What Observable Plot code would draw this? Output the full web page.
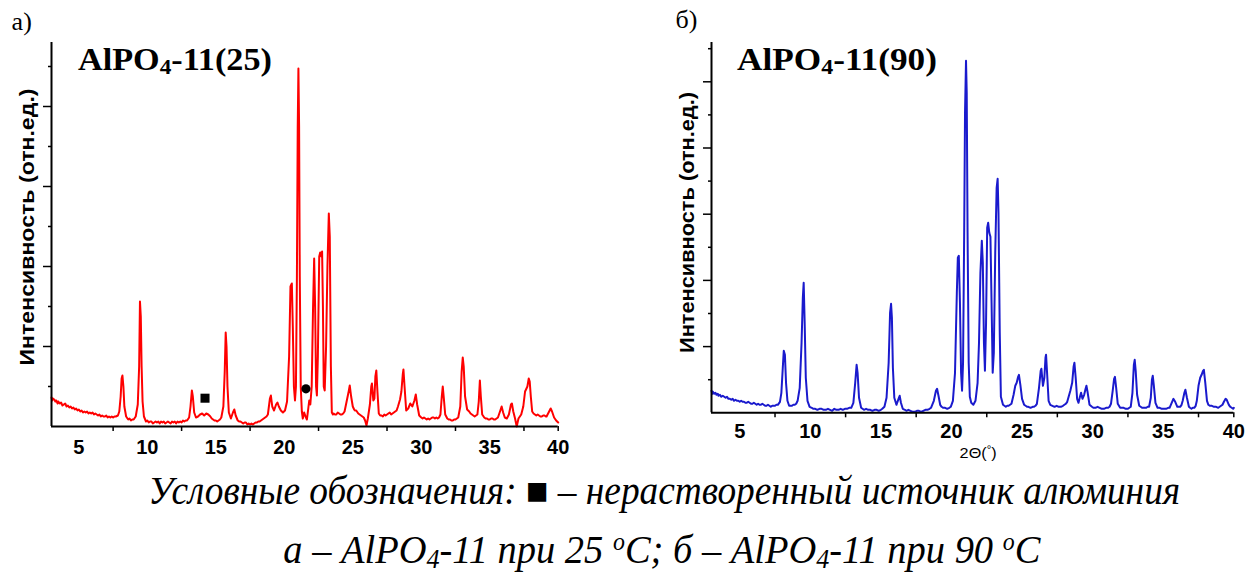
<!DOCTYPE html>
<html>
<head>
<meta charset="utf-8">
<script src="https://cdn.jsdelivr.net/npm/d3@7"></script>
<script src="https://cdn.jsdelivr.net/npm/@observablehq/plot@0.6"></script>
<style>
  html, body { margin: 0; padding: 0; background: #fff; }
  #root { position: relative; width: 1256px; height: 575px; overflow: hidden; background: #fff; }
  .panel { position: absolute; top: 0; }
  .lbl { position: absolute; white-space: nowrap; line-height: 1; color: #000; transform-origin: 50% 50%; }
  sub.s4 { font-size: 0.68em; vertical-align: -0.18em; line-height: 0; }
  sup.so { font-size: 0.62em; vertical-align: 0.55em; line-height: 0; }
</style>
</head>
<body>
<div id="root"></div>
<script>
// ---------- data ----------
const xTickLabels = [5, 10, 15, 20, 25, 30, 35, 40];
const xMinorTicks = [7.5, 12.5, 17.5, 22.5, 27.5, 32.5, 37.5, 40];
const yMajor25 = [80, 160, 240, 320];
const yMinor25 = [40, 120, 200, 280, 360];
const yMajor90 = [66.2, 132.4, 198.6, 264.8, 331];
const yMinor90 = [33.1, 99.3, 165.5, 231.7, 297.9, 364.1];

// AlPO4-11(25): [2θ, intensity (rel. units)]
const pattern25 = [
[3.0,29],[3.05,26],[3.1,28],[3.2,27],[3.28,25],[3.35,26],[3.45,23],[3.5,25],[3.6,23],[3.7,24],[3.8,21],[3.9,22],[4.0,23],[4.1,20],[4.2,21],[4.3,19],[4.4,20],[4.5,18],[4.6,19],[4.7,17],[4.8,18],[4.9,16],[5.0,17],[5.1,15],[5.2,16],[5.3,14],[5.4,15],[5.5,14],[5.6,15],[5.7,13],[5.8,14],[5.9,13],[6.0,14],[6.1,12],[6.2,13],[6.3,12],[6.4,11],[6.5,12],[6.6,10],[6.7,11],[6.8,10],[6.9,10],[7.0,11],[7.1,9],[7.2,10],[7.3,9],[7.4,10],[7.5,9],[7.6,10],[7.7,10],[7.85,11],[7.95,15],[8.05,30],[8.12,48],[8.18,51],[8.25,40],[8.32,20],[8.45,10],[8.6,7],[8.7,8],[8.8,6],[8.9,7],[9.0,7],[9.15,10],[9.3,22],[9.4,60],[9.46,125],[9.52,110],[9.58,60],[9.65,25],[9.75,10],[9.9,5],[10.0,6],[10.1,4],[10.2,5],[10.3,5],[10.4,3],[10.5,4],[10.6,5],[10.7,4],[10.8,5],[10.9,3],[11.0,5],[11.1,4],[11.2,5],[11.3,3],[11.4,4],[11.5,5],[11.6,4],[11.7,3],[11.8,5],[11.9,4],[12.0,5],[12.1,3],[12.2,5],[12.3,4],[12.4,5],[12.5,4],[12.6,6],[12.7,5],[12.8,6],[12.9,6],[13.05,9],[13.15,20],[13.25,36],[13.32,30],[13.42,14],[13.55,9],[13.7,10],[13.85,12],[14.0,13],[14.15,11],[14.3,13],[14.45,12],[14.6,10],[14.7,8],[14.8,7],[14.9,6],[15.0,6],[15.1,5],[15.2,6],[15.3,7],[15.4,9],[15.55,20],[15.65,55],[15.72,94],[15.78,80],[15.85,40],[15.95,14],[16.1,8],[16.25,14],[16.35,17],[16.45,11],[16.6,6],[16.7,5],[16.8,5],[16.9,4],[17.0,3],[17.1,4],[17.2,4],[17.3,2],[17.4,3],[17.5,2],[17.6,3],[17.7,2],[17.8,3],[17.9,4],[18.0,4],[18.1,5],[18.2,5],[18.3,6],[18.4,7],[18.5,8],[18.6,9],[18.7,10],[18.8,12],[18.95,28],[19.02,31],[19.12,20],[19.25,16],[19.4,22],[19.5,24],[19.6,20],[19.75,16],[19.9,14],[20.05,16],[20.2,25],[20.35,70],[20.45,140],[20.55,143],[20.62,100],[20.7,40],[20.78,26],[20.85,40],[20.92,150],[20.98,300],[21.03,358],[21.08,300],[21.13,150],[21.2,40],[21.28,15],[21.35,8],[21.45,14],[21.55,10],[21.65,7],[21.75,18],[21.82,26],[21.9,22],[22.0,40],[22.1,120],[22.18,168],[22.25,120],[22.32,40],[22.38,31],[22.45,70],[22.55,170],[22.62,174],[22.7,170],[22.76,175],[22.82,120],[22.88,40],[22.95,36],[23.05,80],[23.15,160],[23.25,213],[23.32,190],[23.4,60],[23.47,14],[23.55,12],[23.6,13],[23.7,12],[23.8,12],[23.9,14],[24.0,13],[24.1,12],[24.2,12],[24.3,13],[24.4,15],[24.55,25],[24.7,35],[24.78,41],[24.88,30],[25.0,20],[25.1,17],[25.15,16],[25.25,16],[25.3,15],[25.4,13],[25.5,12],[25.6,11],[25.7,10],[25.8,9],[25.9,6],[26.0,1],[26.1,8],[26.25,22],[26.35,40],[26.4,43],[26.5,26],[26.58,28],[26.65,50],[26.72,56],[26.8,35],[26.9,13],[27.0,11],[27.1,11],[27.2,10],[27.3,12],[27.4,11],[27.5,12],[27.6,13],[27.7,14],[27.8,12],[27.9,13],[28.0,14],[28.1,15],[28.2,16],[28.3,20],[28.45,27],[28.55,35],[28.65,52],[28.7,57],[28.78,40],[28.9,16],[29.05,18],[29.2,23],[29.35,20],[29.5,26],[29.6,32],[29.7,22],[29.85,11],[30.0,9],[30.1,8],[30.2,9],[30.3,8],[30.4,7],[30.5,8],[30.6,7],[30.7,8],[30.8,9],[30.9,9],[31.0,8],[31.1,9],[31.2,8],[31.3,9],[31.4,12],[31.5,30],[31.57,40],[31.65,28],[31.75,12],[31.9,8],[32.0,7],[32.1,7],[32.2,6],[32.3,6],[32.4,7],[32.5,7],[32.6,8],[32.7,9],[32.85,20],[32.95,55],[33.03,69],[33.1,60],[33.2,30],[33.35,17],[33.5,15],[33.6,13],[33.7,12],[33.8,11],[33.9,10],[34.0,11],[34.1,12],[34.2,25],[34.28,46],[34.35,30],[34.45,12],[34.6,9],[34.7,8],[34.8,8],[34.9,7],[35.0,7],[35.1,8],[35.2,8],[35.3,7],[35.4,7],[35.5,8],[35.6,9],[35.75,15],[35.87,20],[35.98,14],[36.1,9],[36.25,8],[36.4,12],[36.55,22],[36.62,23],[36.72,15],[36.85,8],[36.97,0],[37.1,8],[37.2,10],[37.3,12],[37.45,20],[37.58,35],[37.65,37],[37.75,40],[37.85,48],[37.92,45],[38.0,30],[38.1,15],[38.2,13],[38.3,12],[38.4,11],[38.5,12],[38.6,11],[38.7,10],[38.8,10],[38.9,11],[39.0,11],[39.1,10],[39.15,10],[39.3,14],[39.45,18],[39.55,15],[39.7,9],[39.85,6],[40.0,4]
];

// AlPO4-11(90)
const pattern90 = [
[3.0,22],[3.05,19],[3.1,21],[3.2,19],[3.28,20],[3.35,18],[3.45,19],[3.5,17],[3.6,18],[3.7,16],[3.8,17],[3.9,16],[4.0,15],[4.1,16],[4.2,14],[4.3,14],[4.4,13],[4.5,14],[4.6,12],[4.7,13],[4.8,12],[4.9,12],[5.0,11],[5.1,12],[5.2,11],[5.3,11],[5.4,10],[5.5,10],[5.6,11],[5.7,10],[5.8,9],[5.9,9],[6.0,10],[6.1,9],[6.2,8],[6.3,9],[6.4,8],[6.5,8],[6.6,9],[6.7,8],[6.8,7],[6.9,7],[7.0,8],[7.1,7],[7.2,6],[7.3,7],[7.4,7],[7.5,7],[7.6,8],[7.7,8],[7.85,11],[7.95,20],[8.05,45],[8.12,62],[8.2,58],[8.28,30],[8.38,12],[8.5,7],[8.6,7],[8.7,7],[8.8,8],[8.9,8],[9.0,9],[9.1,12],[9.25,25],[9.38,70],[9.47,115],[9.53,130],[9.6,90],[9.68,35],[9.8,12],[9.95,6],[10.1,5],[10.2,4],[10.35,4],[10.5,3],[10.65,4],[10.8,4],[10.95,3],[11.1,3],[11.25,4],[11.4,3],[11.55,2],[11.7,4],[11.85,3],[12.0,3],[12.15,4],[12.3,3],[12.45,4],[12.6,4],[12.75,5],[12.9,5],[13.05,10],[13.18,30],[13.28,48],[13.35,40],[13.45,15],[13.6,5],[13.7,4],[13.8,3],[13.95,4],[14.1,3],[14.25,3],[14.4,2],[14.55,3],[14.7,3],[14.85,2],[15.0,3],[15.1,4],[15.25,6],[15.4,15],[15.55,50],[15.65,100],[15.72,109],[15.78,95],[15.85,45],[15.95,15],[16.1,8],[16.25,14],[16.33,17],[16.42,10],[16.55,4],[16.7,3],[16.8,2],[16.95,3],[17.1,2],[17.25,1],[17.4,1],[17.55,2],[17.7,2],[17.85,1],[18.0,2],[18.15,3],[18.3,3],[18.45,4],[18.55,5],[18.75,12],[18.9,22],[18.98,24],[19.08,17],[19.2,8],[19.3,6],[19.4,5],[19.55,5],[19.7,4],[19.85,5],[19.95,6],[20.1,12],[20.25,40],[20.38,120],[20.45,155],[20.52,157],[20.6,110],[20.68,40],[20.75,22],[20.82,50],[20.9,180],[20.96,300],[21.03,352],[21.08,320],[21.14,180],[21.22,50],[21.3,16],[21.4,10],[21.55,8],[21.7,12],[21.85,30],[21.95,70],[22.05,140],[22.15,172],[22.22,150],[22.3,70],[22.37,42],[22.45,90],[22.53,185],[22.6,190],[22.68,180],[22.76,176],[22.84,110],[22.92,40],[23.0,60],[23.1,160],[23.2,225],[23.27,234],[23.33,200],[23.42,80],[23.5,16],[23.65,8],[23.75,7],[23.85,6],[23.95,7],[24.05,7],[24.15,8],[24.25,9],[24.4,18],[24.52,27],[24.62,30],[24.72,36],[24.78,38],[24.88,28],[25.0,14],[25.15,8],[25.25,7],[25.35,6],[25.45,6],[25.6,5],[25.75,6],[25.85,6],[25.95,7],[26.05,9],[26.2,25],[26.32,42],[26.37,44],[26.48,27],[26.58,35],[26.66,55],[26.7,58],[26.78,38],[26.88,12],[27.0,8],[27.15,7],[27.3,6],[27.45,7],[27.6,6],[27.75,6],[27.9,7],[28.0,8],[28.1,9],[28.2,11],[28.3,16],[28.42,22],[28.55,30],[28.65,46],[28.71,50],[28.8,35],[28.9,14],[29.0,10],[29.1,16],[29.18,20],[29.28,14],[29.4,18],[29.5,24],[29.56,27],[29.65,20],[29.78,8],[29.95,6],[30.05,5],[30.2,5],[30.35,6],[30.5,5],[30.65,4],[30.8,4],[30.95,5],[31.1,5],[31.2,6],[31.3,9],[31.42,22],[31.52,34],[31.58,36],[31.66,26],[31.78,9],[31.95,5],[32.05,5],[32.2,5],[32.35,4],[32.5,4],[32.6,5],[32.7,6],[32.82,20],[32.92,48],[32.98,53],[33.05,42],[33.15,18],[33.3,7],[33.4,6],[33.5,5],[33.65,5],[33.8,5],[33.9,6],[34.0,6],[34.12,15],[34.2,33],[34.26,37],[34.33,28],[34.45,10],[34.6,5],[34.75,5],[34.9,4],[35.05,4],[35.2,4],[35.35,5],[35.45,5],[35.6,10],[35.72,14],[35.85,11],[36.0,6],[36.1,6],[36.2,6],[36.3,8],[36.38,12],[36.5,20],[36.57,23],[36.68,15],[36.82,6],[36.9,5],[37.0,4],[37.1,5],[37.2,5],[37.3,7],[37.38,12],[37.5,27],[37.62,35],[37.72,38],[37.82,42],[37.88,43],[37.98,30],[38.1,12],[38.2,8],[38.3,7],[38.45,7],[38.6,6],[38.75,6],[38.9,5],[39.0,6],[39.1,7],[39.2,8],[39.3,11],[39.42,14],[39.5,13],[39.65,8],[39.75,6],[39.85,5],[39.95,4],[40.0,5]
];

const squareMarker25 = [[14.21, 28.3]];   // нерастворенный источник алюминия
const circleMarker25 = [[21.58, 37.7]];

// ---------- plots ----------
const root = document.getElementById("root");

function makePanel(o) {
  const marks = [
    Plot.line(o.data, {x: d => d[0], y: d => d[1], stroke: o.color, strokeWidth: 2}),
    ...(o.extra || []),
    Plot.ruleX([3], {stroke: "black", strokeWidth: 2}),
    Plot.ruleY([0], {stroke: "black", strokeWidth: 2}),
    Plot.axisX(xTickLabels, {tickSize: 0, tickPadding: o.tickPadding, fontSize: o.tickFont, fontWeight: "bold", label: null}),
    Plot.axisX(xMinorTicks, {tickSize: 5, tickFormat: () => "", strokeWidth: 1.5, label: null}),
    Plot.axisY(o.yMajor, {tickSize: 8, tickFormat: () => "", strokeWidth: 1.5, label: null}),
    Plot.axisY(o.yMinor, {tickSize: 3, tickFormat: () => "", strokeWidth: 1.5, label: null})
  ];
  const svg = Plot.plot({
    width: 628, height: 470,
    marginLeft: o.ml, marginRight: o.mr, marginTop: 42, marginBottom: o.mb,
    x: {domain: [3, 40]},
    y: {domain: [0, o.yMax]},
    style: {fontFamily: "'Liberation Sans', Arial, sans-serif", color: "black", background: "transparent", overflow: "visible"},
    marks
  });
  svg.classList.add("panel");
  svg.style.left = o.left + "px";
  root.appendChild(svg);
}

makePanel({
  data: pattern25, color: "#ff0000", left: 0,
  ml: 51, mr: 70.3, mb: 44, yMax: 384,
  yMajor: yMajor25, yMinor: yMinor25, tickPadding: 13, tickFont: 20,
  extra: [
    Plot.dot(squareMarker25, {x: d => d[0], y: d => d[1], symbol: "square", r: 5.1, fill: "black"}),
    Plot.dot(circleMarker25, {x: d => d[0], y: d => d[1], symbol: "circle", r: 4.6, fill: "black"})
  ]
});
makePanel({
  data: pattern90, color: "#1a1acd", left: 628,
  ml: 83, mr: 22.7, mb: 57.7, yMax: 370.3,
  yMajor: yMajor90, yMinor: yMinor90, tickPadding: 11, tickFont: 20
});

// ---------- texts ----------
function label(html, o) {
  const s = document.createElement("span");
  s.className = "lbl";
  s.innerHTML = html;
  s.style.font = o.font;
  s.style.left = "0px"; s.style.top = "0px";
  root.appendChild(s);
  const r = s.getBoundingClientRect();
  const k = o.w ? o.w / r.width : 1;
  s.style.left = (o.cx - r.width / 2) + "px";
  s.style.top = (o.cy - r.height / 2) + "px";
  s.style.transform = `rotate(${o.rot || 0}deg) scaleX(${k})`;
}

const serif = "'Liberation Serif', 'Times New Roman', serif";
const sans = "'Liberation Sans', Arial, sans-serif";

label("а)", {cx: 21.7, cy: 22, font: `26px ${serif}`});
label("б)", {cx: 686.5, cy: 20, font: `26px ${serif}`});

label('AlPO<sub class="s4">4</sub>-11(25)', {cx: 175, cy: 60, w: 194, font: `bold 31px ${serif}`});
label('AlPO<sub class="s4">4</sub>-11(90)', {cx: 836.7, cy: 60, w: 200, font: `bold 31px ${serif}`});

label("Интенсивность (отн.ед.)", {cx: 27, cy: 226.5, w: 277, rot: -90, font: `bold 21px ${sans}`});
label("Интенсивность (отн.ед.)", {cx: 688, cy: 222.5, w: 261, rot: -90, font: `bold 20px ${sans}`});

label('2Θ(<sup style="font-size:0.7em;vertical-align:0.45em;line-height:0">°</sup>)', {cx: 978.5, cy: 452, w: 37, font: `15px ${sans}`});

label('Условные обозначения: <span style="font-style:normal">■</span> – нерастворенный источник алюминия',
      {cx: 664, cy: 490, w: 1032, font: `italic 39px ${serif}`});
label('а – AlPO<sub class="s4">4</sub>-11 при 25 <sup class="so">o</sup>С; б – AlPO<sub class="s4">4</sub>-11 при 90 <sup class="so">o</sup>С',
      {cx: 661.5, cy: 549, w: 757, font: `italic 39px ${serif}`});
</script>
</body>
</html>
